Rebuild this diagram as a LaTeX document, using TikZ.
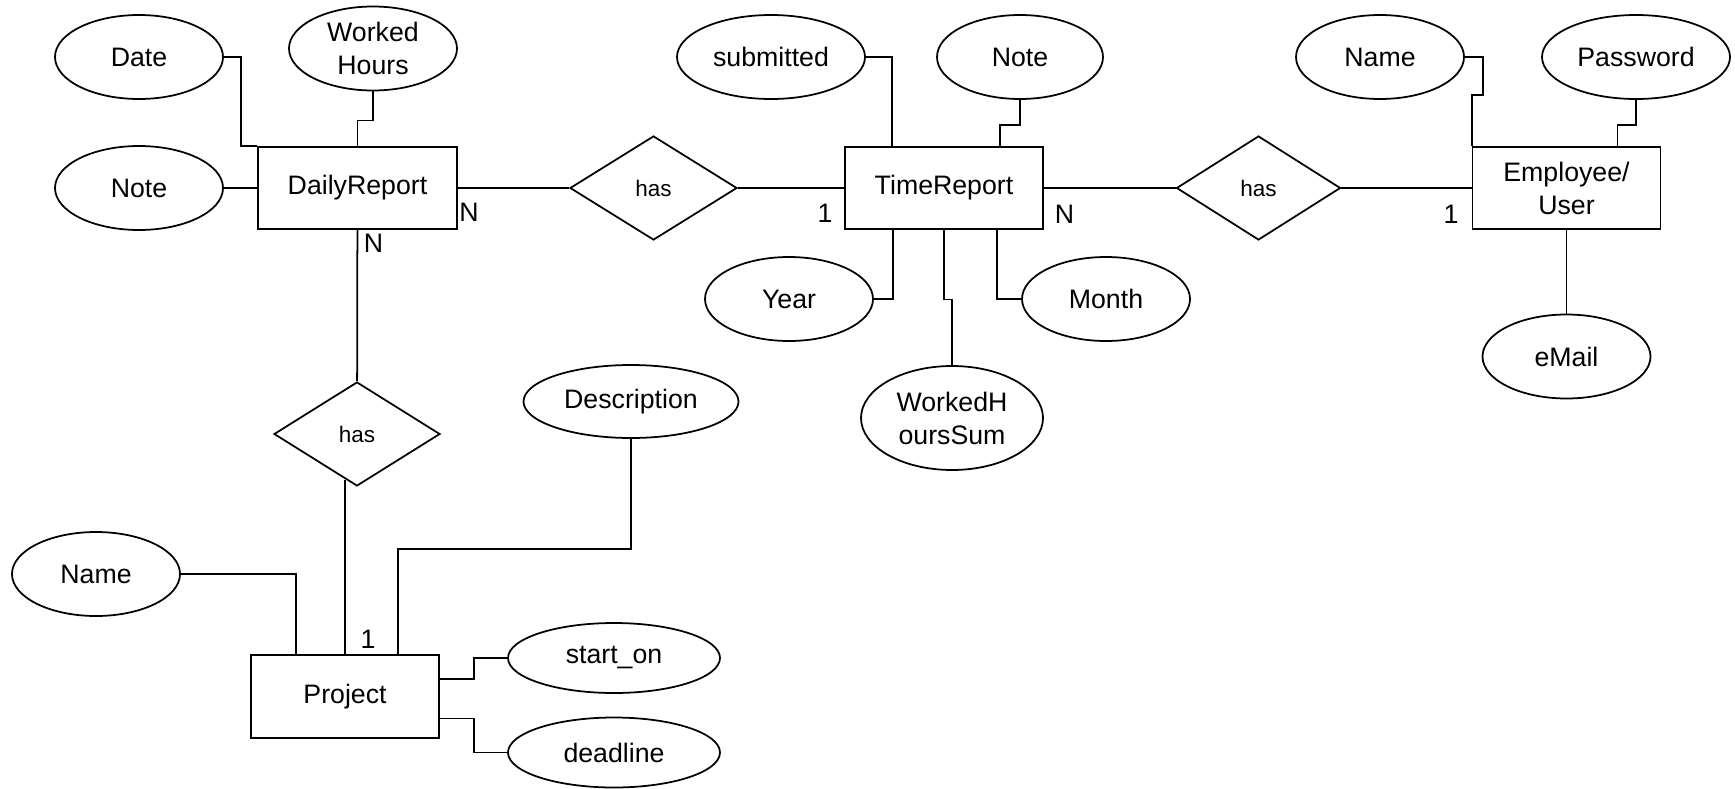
\documentclass[tikz,border=0pt]{standalone}
\usepackage{fontspec}
\setmainfont{Liberation Sans}
\usetikzlibrary{shapes}

\newcommand{\erfont}{\fontsize{7.6}{9.4}\selectfont}
\newcommand{\relfont}{\fontsize{6.4}{8}\selectfont}

\begin{document}
\begin{tikzpicture}[line width=0.5pt,
    entity/.style={shape=rectangle,draw=black,inner sep=0pt,minimum width=1.88cm,minimum height=0.82cm,align=center,font=\erfont},
    attr/.style={shape=ellipse,draw=black,inner sep=0pt,minimum width=1.68cm,minimum height=0.84cm,align=center,font=\erfont},
    wideattr/.style={attr,minimum width=2.12cm,minimum height=0.70cm},
    rel/.style={shape=diamond,draw=black,inner sep=0pt,minimum width=1.66cm,minimum height=1.04cm,font=\relfont},
    card/.style={inner sep=0pt,font=\erfont}]
                \useasboundingbox (0, 0) rectangle (17.35, -7.88);
                \node[entity,minimum width=1.99cm](dr)at(3.575, -1.88){DailyReport};
                \node[entity,minimum width=1.985cm](tr)at(9.44, -1.88){TimeReport};
                \node[entity](emp)at(15.665, -1.88){Employee/\\User};
                \node[entity,minimum height=0.83cm](proj)at(3.45, -6.965){Project};
                \node[rel,minimum width=1.67cm](hasA)at(6.535, -1.88){has};
                \node[rel,minimum width=1.64cm](hasB)at(12.585, -1.88){has};
                \node[rel](hasC)at(3.57, -4.34){has};
                \node[attr](date)at(1.39, -0.57){Date};
                \node[attr](whours)at(3.73, -0.485){Worked\\Hours};
                \node[attr](drnote)at(1.39, -1.88){Note};
                \node[attr,minimum width=1.88cm](submitted)at(7.71, -0.57){submitted};
                \node[attr,minimum width=1.66cm](trnote)at(10.20, -0.57){Note};
                \node[attr](year)at(7.89, -2.99){Year};
                \node[attr](month)at(11.06, -2.99){Month};
                \node[attr,minimum width=1.82cm,minimum height=1.04cm](whsum)at(9.52, -4.18){WorkedH\\oursSum};
                \node[attr](ename)at(13.80, -0.57){Name};
                \node[attr,minimum width=1.88cm](password)at(16.36, -0.57){Password};
                \node[attr](email)at(15.665, -3.565){eMail};
                \node[wideattr,minimum width=2.15cm,minimum height=0.73cm](desc)at(6.31, -4.015){Description};
                \node[attr](pname)at(0.96, -5.74){Name};
                \node[wideattr](starton)at(6.14, -6.58){start\_on};
                \node[wideattr](deadline)at(6.14, -7.525){deadline};
                \node[card](c1)at(4.69, -2.12){N};
                \node[card](c2)at(3.735, -2.43){N};
                \node[card](c3)at(8.25, -2.135){1};
                \node[card](c4)at(10.645, -2.145){N};
                \node[card](c5)at(14.51, -2.145){1};
                \node[card](c6)at(3.68, -6.39){1};
                \path (drnote) edge (dr)
                (dr) edge (hasA)
                (hasA) edge (tr)
                (tr) edge (hasB)
                (hasB) edge (emp)
                (emp) edge (email)
                (dr) edge (hasC);
                \draw (date.east) -- ++(0.174, 0) |- (dr.north west);
                \draw (whours.south) -- ++(0, -0.29) -| (dr.north);
                \draw (submitted.east) -| ([xshift=-0.52cm]tr.north);
                \draw (trnote.south) -- ++(0, -0.25) -| ([xshift=0.56cm]tr.north);
                \draw (year.east) -| ([xshift=-0.51cm]tr.south);
                \draw (tr.south) -- ++(0, -0.695) -| (whsum.north);
                \draw (month.west) -| ([xshift=0.53cm]tr.south);
                \draw (ename.east) -- ++(0.18, 0) -- ++(0, -0.38) -| (emp.north west);
                \draw (password.south) -- ++(0, -0.25) -| ([xshift=0.51cm]emp.north);
                \draw (proj.north) -- (proj.north |- hasC.257);
                \draw (pname.east) -| ([xshift=-0.49cm]proj.north);
                \draw (desc.south) -- ++(0, -1.1) -| ([xshift=0.53cm]proj.north);
                \draw ([yshift=0.175cm]proj.east) -- ++(0.34, 0) |- (starton.west);
                \draw ([yshift=-0.22cm]proj.east) -- ++(0.34, 0) |- (deadline.west);
\end{tikzpicture}
\end{document}
